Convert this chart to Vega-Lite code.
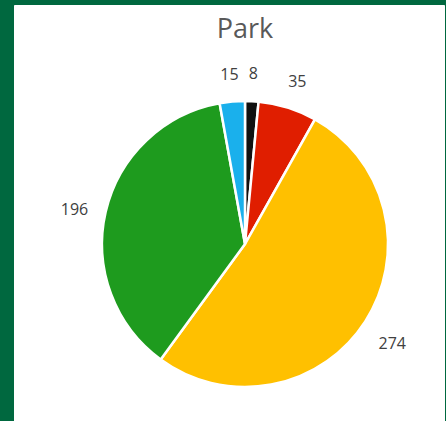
{
  "$schema": "https://vega.github.io/schema/vega-lite/v6.json",
  "autosize": {"type": "none"},
  "width": 430,
  "height": 416,
  "padding": {"left": 14, "top": 5, "right": 2, "bottom": 0},
  "background": "#00683f",
  "view": {"fill": "white", "stroke": "white"},
  "datasets": {
    "slices": [
      {"cat": "A", "value": 8, "order": 1},
      {"cat": "B", "value": 35, "order": 2},
      {"cat": "C", "value": 274, "order": 3},
      {"cat": "D", "value": 196, "order": 4},
      {"cat": "E", "value": 15, "order": 5}
    ],
    "heading": [{"title": "Park"}]
  },
  "layer": [
    {
      "data": {"name": "slices"},
      "encoding": {
        "theta": {"field": "value", "type": "quantitative", "stack": true},
        "order": {"field": "order", "type": "quantitative"},
        "color": {"field": "cat", "type": "nominal", "legend": null,
          "scale": {"domain": ["A","B","C","D","E"], "range": ["#111111","#e01e00","#ffc000","#1e9b1e","#1ab0ec"]}}
      },
      "layer": [
        {"mark": {"type": "arc", "outerRadius": 143, "stroke": "white", "strokeWidth": 2.5, "x": {"expr": "width/2+16"}, "y": {"expr": "height/2+31"}}},
        {"mark": {"type": "text", "radius": 175, "dy": 5, "fontSize": 16, "font": "Open Sans", "x": {"expr": "width/2+16"}, "y": {"expr": "height/2+31"}},
         "encoding": {"text": {"field": "value", "type": "quantitative"}, "color": {"value": "#404040"}}}
      ]
    },
    {
      "data": {"name": "heading"},
      "mark": {"type": "text", "fontSize": 27, "font": "Open Sans", "baseline": "alphabetic", "align": "center", "x": {"expr": "width/2+16"}, "y": {"expr": "33"}},
      "encoding": {"text": {"field": "title", "type": "nominal"}, "color": {"value": "#595959"}}
    }
  ]
}
